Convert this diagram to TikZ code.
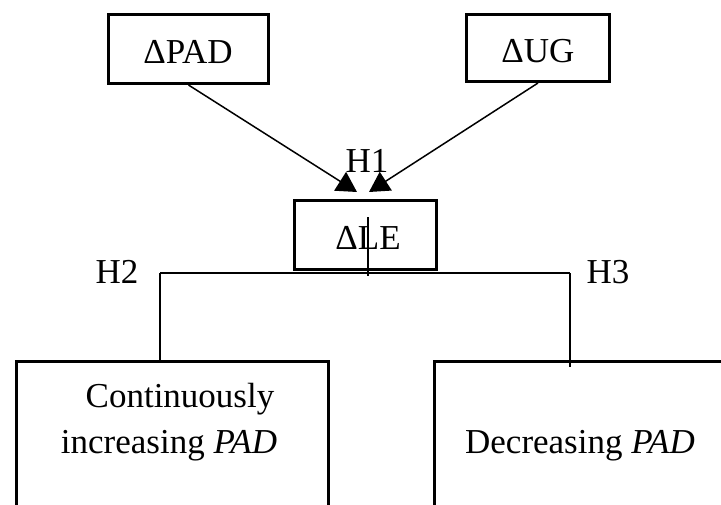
\documentclass[tikz,border=0pt]{standalone}
\usepackage{fontspec}
\setmainfont{Liberation Serif}
\usetikzlibrary{arrows.meta}
\begin{document}
\begin{tikzpicture}[x=1pt,y=-1pt,
  every node/.style={font=\fontsize{35}{40}\selectfont, inner sep=0pt},
  box/.style={draw, line width=3pt, minimum width=#1, anchor=north west},
  lbl/.style={anchor=base},
  conn/.style={line width=1.2pt},
  arr/.style={line width=1.5pt, -{Triangle[length=20pt,width=22pt]}}]
\useasboundingbox (0,0) rectangle (721,504);
% boxes
\node[box=160pt, minimum height=69pt] (pad) at (107,13) {};
\node[box=143pt, minimum height=67pt] (ug) at (465,13) {};
\node[box=142pt, minimum height=69pt] (le) at (293,199) {};
\node[box=312pt, minimum height=180pt] (bl) at (15,360) {};
\node[box=310pt, minimum height=180pt] (br) at (433,360) {};
% texts
\node[lbl] (tpad) at (188,63) {ΔPAD};
\node[lbl] (tug) at (538,62) {ΔUG};
\node[lbl] (tle) at (368,249) {ΔLE};
\node[lbl] (h1) at (367,172) {H1};
\node[lbl] (h2) at (117,283) {H2};
\node[lbl] (h3) at (608,283) {H3};
\node[lbl] (c1) at (180,407) {Continuously};
\node[lbl] (c2) at (169,453) {increasing \textit{PAD}};
\node[lbl] (d1) at (580,453) {Decreasing \textit{PAD}};
% connector points
\coordinate (tipL) at (357,192);
\coordinate (tipR) at (369,192);
\coordinate (vtop) at (368,217);
\coordinate (vbot) at (368,276);
\coordinate (hl) at (160,273);
\coordinate (hr) at (570,273);
\coordinate (rb) at (570,367);
% arrows
\draw[arr] (pad.south) -- (tipL);
\draw[arr] (ug.south) -- (tipR);
% tree
\draw[conn] (vtop) -- (vbot);
\draw[conn] (hl) -- (hr);
\draw[conn] (hl) -- (hl |- bl.north);
\draw[conn] (hr) -- (rb);
\end{tikzpicture}
\end{document}
